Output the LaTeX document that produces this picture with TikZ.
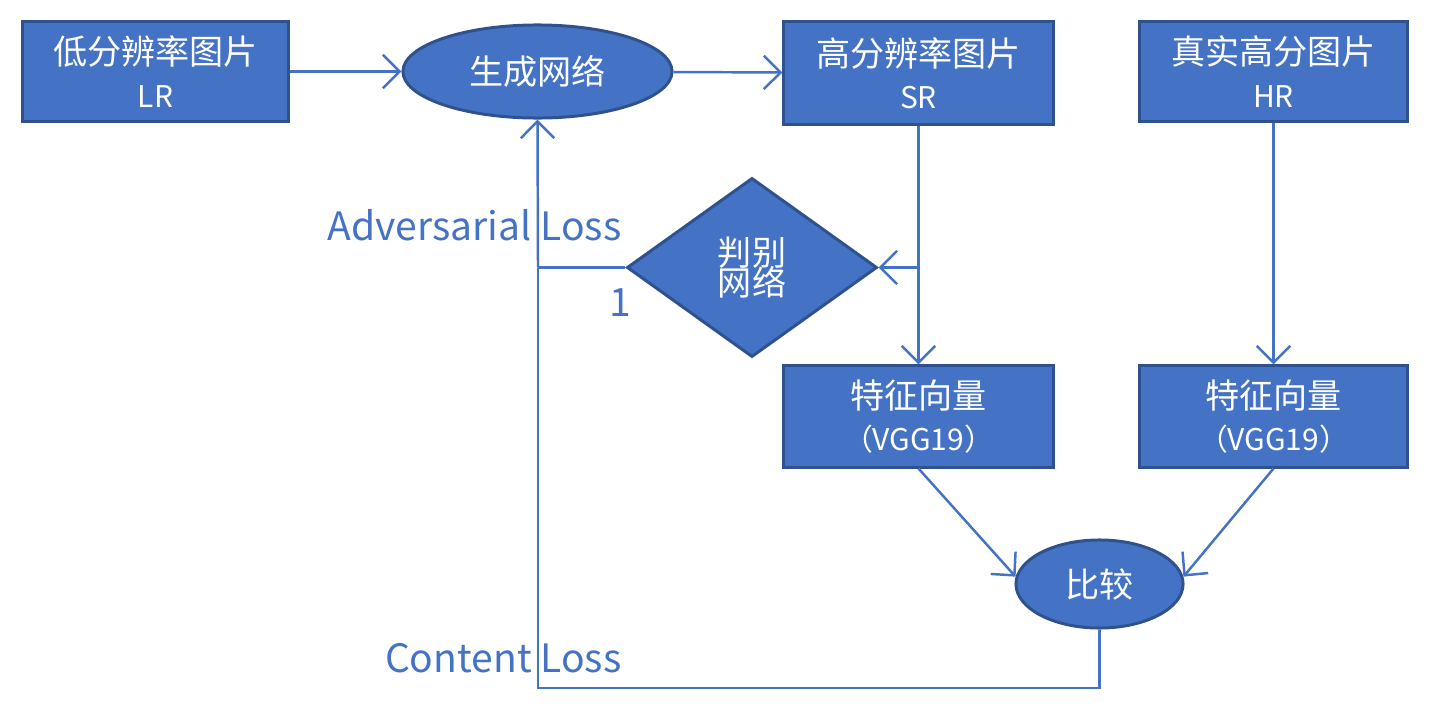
\documentclass[tikz,border=0pt]{standalone}
\usepackage{fontspec}
\setmainfont{Noto Sans CJK SC}
\usetikzlibrary{positioning,shapes,arrows.meta}

\definecolor{fillblue}{HTML}{4472C4}
\definecolor{edgeblue}{HTML}{2F528F}

\tikzset{
  box/.style={draw=edgeblue, fill=fillblue, line width=0.85pt, text=white, align=center, inner sep=0pt},
  bigtxt/.style={font=\fontsize{9.7}{10.5}\selectfont},
  flow/.style={draw=fillblue, line width=0.7pt, -{Straight Barb[length=4.8pt,width=9.5pt]}},
  line/.style={draw=fillblue, line width=0.7pt},
  losstxt/.style={text=fillblue, font=\fontsize{11.1}{13}\selectfont, inner sep=0pt}
}
\newcommand{\subtxt}[1]{{\fontsize{8.5}{9}\selectfont #1}}

\begin{document}
\begin{tikzpicture}[x=0.01cm,y=-0.01cm]
\useasboundingbox (0,0) rectangle (1433,718);

% top row
\node[box, bigtxt, minimum width=2.65cm, minimum height=0.99cm] (lr) at (155.5,71.5) {低分辨率图片\\[1.5pt]\subtxt{LR}};
\node[box, bigtxt, ellipse, minimum width=2.69cm, minimum height=0.93cm] (gen) at (537.5,71.5) {生成网络};
\node[box, bigtxt, minimum width=2.69cm, minimum height=1.02cm] (sr) at (918.5,73) {高分辨率图片\\[1.5pt]\subtxt{SR}};
\node[box, bigtxt, minimum width=2.67cm, minimum height=0.99cm] (hr) at (1273.5,71.5) {真实高分图片\\[1.5pt]\subtxt{HR}};

% discriminator
\node[box, bigtxt, diamond, aspect=1.4, minimum width=2.5cm, minimum height=1.79cm] (dis) at (752,267.5) {判别\\[-2pt]网络};

% feature boxes
\node[box, bigtxt, minimum width=2.69cm, minimum height=1.01cm] (fsr) at (918.5,416.5) {特征向量\\[1.5pt]\subtxt{（VGG19）}};
\node[box, bigtxt, minimum width=2.67cm, minimum height=1.01cm] (fhr) at (1273.5,416.5) {特征向量\\[1.5pt]\subtxt{（VGG19）}};
\node[box, bigtxt, ellipse, minimum width=1.67cm, minimum height=0.88cm] (cmp) at (1099.5,584) {比较};

\coordinate (split) at (918,267.5);
\coordinate (turn) at (538,267.5);
\coordinate (cl) at (538,688);

% connectors
\draw[flow] (lr) -- (gen);
\draw[flow] (gen) -- (sr);
\draw[flow] (sr) -- (fsr);
\draw[flow] (split) -- (dis.east);
\draw[flow] (hr) -- (fhr);
\draw[flow] (fsr.south) -- (cmp.175);
\draw[flow] (fhr.south) -- (cmp.5);
\draw[line] (dis.west) -- (turn);
\draw[flow] (turn) -- (gen.south);
\draw[line] (cmp.south) |- (cl) -- (turn);

% labels
\node[losstxt, anchor=base east] (adv) at (622,240) {Adversarial Loss};
\node[losstxt, anchor=base] (one) at (620,316) {1};
\node[losstxt, anchor=base east] (con) at (622,672) {Content Loss};
\end{tikzpicture}
\end{document}
